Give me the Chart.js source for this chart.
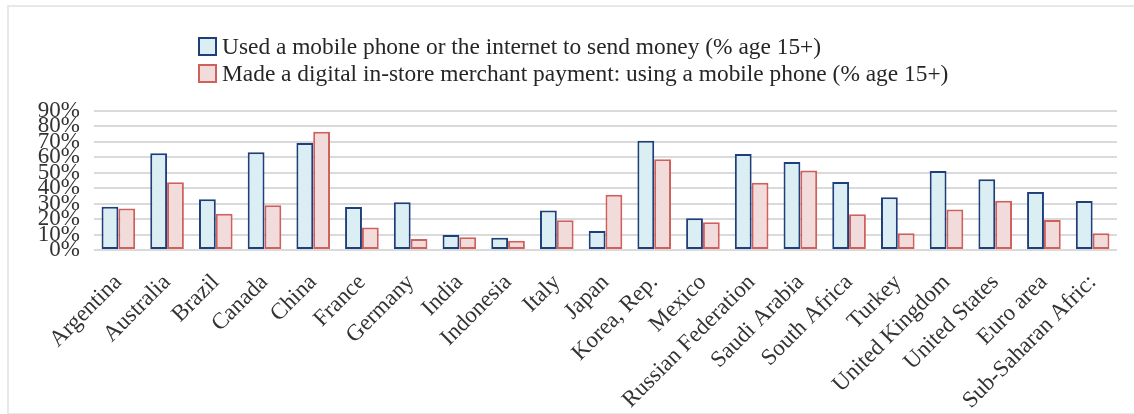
<!DOCTYPE html>
<html>
<head>
<meta charset="utf-8">
<title>Mobile payments by country</title>
<script src="https://cdn.jsdelivr.net/npm/chart.js@4.4.1/dist/chart.umd.min.js"></script>
<style>
  body { margin: 0; background: #fff; overflow: hidden; }
  #frame { position: absolute; left: 7px; top: 5px; width: 1140px; height: 406px; border: 2px solid #e8e8e8; }
  #wrap { position: absolute; left: 0; top: 0; width: 1134px; height: 414px; }
  #legend { position: absolute; left: 198px; top: 33px; font: 23.4px "Liberation Serif", "Times New Roman", serif; color: #262626; }
  .item { display: flex; align-items: center; height: 27px; white-space: nowrap; }
  .swatch { width: 15px; height: 15px; border: 2px solid; margin-right: 5px; box-sizing: content-box; }
</style>
</head>
<body>
<div id="frame"></div>
<div id="wrap"><canvas id="chart" width="1134" height="414"></canvas></div>
<div id="legend"></div>
<script>
// Countries / regions on the x axis
const countries = [
  "Argentina", "Australia", "Brazil", "Canada", "China", "France", "Germany",
  "India", "Indonesia", "Italy", "Japan", "Korea, Rep.", "Mexico",
  "Russian Federation", "Saudi Arabia", "South Africa", "Turkey",
  "United Kingdom", "United States", "Euro area", "Sub-Saharan Afric:"
];

// % age 15+ who used a mobile phone or the internet to send money
const sendMoney = [28.0, 62.6, 32.8, 63.3, 69.3, 27.8, 30.9, 9.7, 8.0, 25.5, 12.3,
                   70.8, 20.5, 62.2, 57.0, 44.0, 34.1, 51.2, 45.8, 37.6, 31.7];

// % age 15+ who made a digital in-store merchant payment with a mobile phone
const merchantPay = [26.8, 43.8, 23.5, 28.9, 76.6, 14.5, 7.1, 8.2, 6.0, 19.2, 35.8,
                     58.7, 17.9, 43.6, 51.4, 23.1, 10.8, 26.3, 31.9, 19.4, 10.8];

const seriesNames = [
  "Used a mobile phone or the internet to send money (% age 15+)",
  "Made a digital in-store merchant payment: using a mobile phone (% age 15+)"
];

// y axis ticks, in percent
const yTicks = [0, 10, 20, 30, 40, 50, 60, 70, 80, 90];

const serif = "'Liberation Serif', 'Times New Roman', serif";

const chart = new Chart("chart", {
  type: "bar",
  data: {
    labels: countries,
    datasets: [
      {
        label: seriesNames[0],
        data: sendMoney,
        backgroundColor: "#dbeef4",
        borderColor: "#1f3f7a",
        borderWidth: 2,
        borderSkipped: false,
      },
      {
        label: seriesNames[1],
        data: merchantPay,
        backgroundColor: "#f2dcdb",
        borderColor: "#d0605c",
        borderWidth: 2,
        borderSkipped: false,
      },
    ],
  },
  options: {
    responsive: false,
    animation: false,
    layout: { padding: { top: 111, right: 17, left: 0, bottom: 0 } },
    datasets: { bar: { categoryPercentage: 0.69, barPercentage: 1.0 } },
    plugins: {
      legend: { display: false },
      tooltip: { enabled: false },
    },
    scales: {
      x: {
        grid: { display: false },
        border: { display: false },
        ticks: {
          autoSkip: false,
          minRotation: 45,
          maxRotation: 45,
          padding: 11,
          color: "#333",
          font: { family: serif, size: 23 },
        },
        afterFit: (scale) => { scale.height = 164; },
      },
      y: {
        min: 0,
        max: 90,
        border: { display: false },
        grid: { color: "#dadada", lineWidth: 2, drawTicks: false },
        ticks: {
          autoSkip: false,
          padding: 14,
          color: "#333",
          font: { family: serif, size: 23 },
          callback: (v) => v + "%",
        },
        afterBuildTicks: (scale) => { scale.ticks = yTicks.map((v) => ({ value: v })); },
        afterFit: (scale) => { scale.width = 94; },
      },
    },
  },
});

// Legend built from the chart's datasets, stacked and left aligned
const legend = document.getElementById("legend");
chart.data.datasets.forEach((ds) => {
  const row = document.createElement("div");
  row.className = "item";
  const box = document.createElement("span");
  box.className = "swatch";
  box.style.background = ds.backgroundColor;
  box.style.borderColor = ds.borderColor;
  const text = document.createElement("span");
  text.textContent = ds.label;
  row.appendChild(box);
  row.appendChild(text);
  legend.appendChild(row);
});
</script>
</body>
</html>
